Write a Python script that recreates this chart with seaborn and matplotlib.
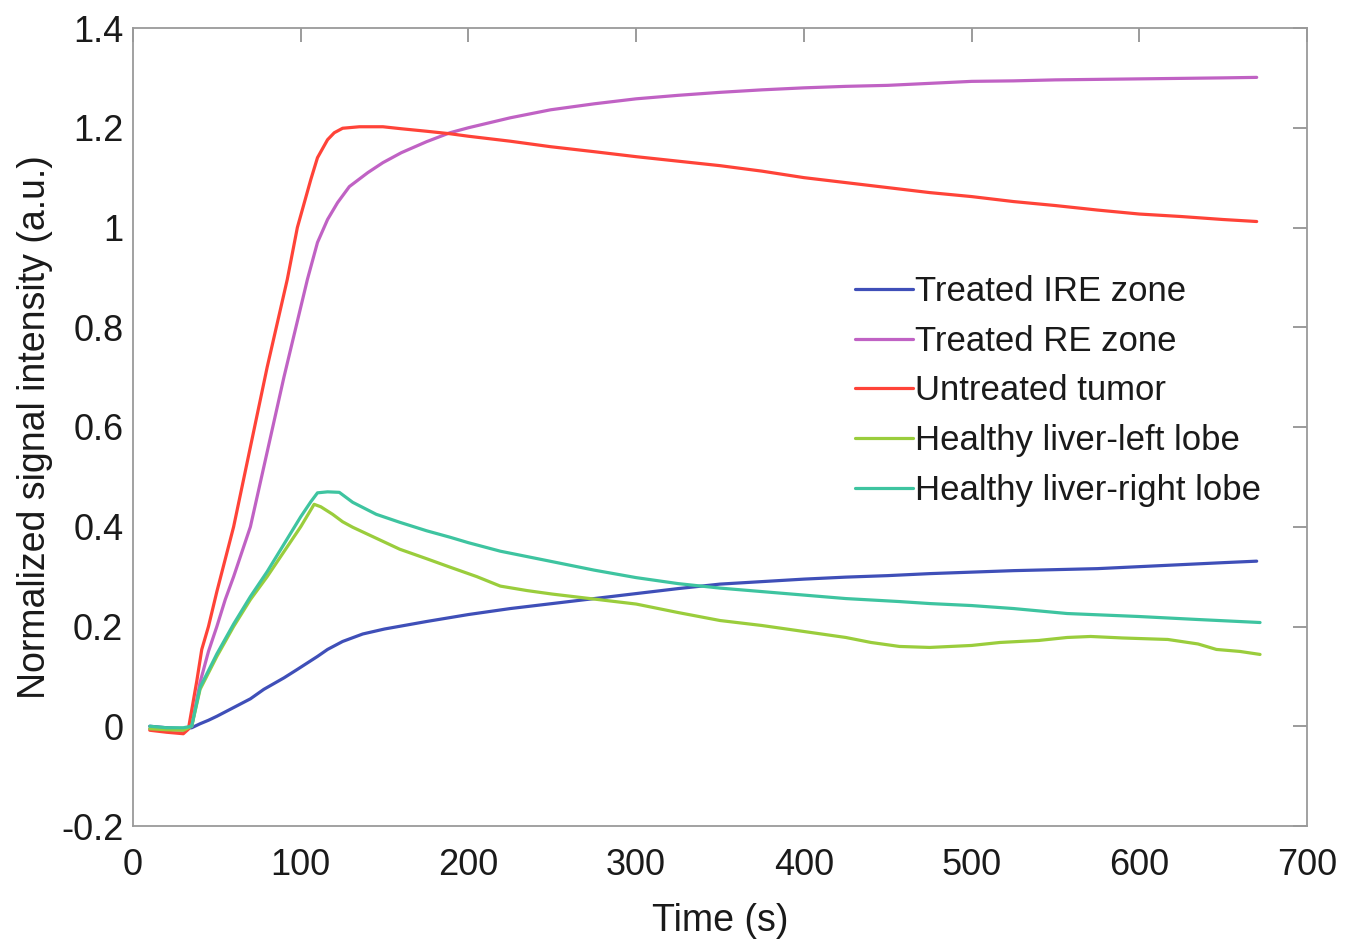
import numpy as np
import pandas as pd
import matplotlib
matplotlib.use("Agg")
import matplotlib.pyplot as plt
import seaborn as sns
from matplotlib.ticker import FuncFormatter

# ---- data ----
labels = ["Treated IRE zone", "Treated RE zone", "Untreated tumor",
          "Healthy liver-left lobe", "Healthy liver-right lobe"]

t_ire = [10, 20, 30, 35, 40, 45, 50, 58, 70, 78, 90, 98, 110, 116, 125, 137, 150, 175,
         200, 225, 250, 275, 300, 325, 350, 375, 400, 425, 450, 475, 500, 525, 550,
         575, 600, 625, 650, 670]
v_ire = [0.0, -0.003, -0.005, -0.003, 0.005, 0.012, 0.02, 0.034, 0.055, 0.074, 0.097,
         0.114, 0.14, 0.154, 0.17, 0.185, 0.195, 0.21, 0.224, 0.236, 0.246, 0.256, 0.266,
         0.276, 0.285, 0.29, 0.295, 0.299, 0.302, 0.306, 0.309, 0.312, 0.314, 0.316,
         0.32, 0.324, 0.328, 0.331]

t_re = [10, 20, 30, 35, 40, 45, 50, 55, 60, 70, 80, 90, 100, 104, 110, 116, 122, 129,
        140, 149, 160, 175, 189, 200, 225, 249, 275, 300, 325, 350, 375, 400, 425, 450,
        475, 500, 525, 550, 575, 600, 625, 650, 670]
v_re = [-0.005, -0.007, -0.008, 0.0, 0.088, 0.15, 0.20, 0.254, 0.30, 0.40, 0.55, 0.70,
        0.84, 0.896, 0.97, 1.016, 1.05, 1.082, 1.11, 1.13, 1.15, 1.172, 1.19, 1.20,
        1.22, 1.236, 1.248, 1.258, 1.265, 1.271, 1.276, 1.28, 1.283, 1.285, 1.289,
        1.293, 1.294, 1.296, 1.297, 1.298, 1.299, 1.300, 1.301]

t_tum = [10, 20, 30, 33, 38, 41, 45, 50, 60, 70, 80, 92, 98, 106, 110, 116, 120, 125,
         135, 149, 160, 175, 189, 200, 225, 249, 275, 300, 325, 350, 375, 400, 425, 450,
         475, 500, 525, 550, 575, 600, 625, 650, 670]
v_tum = [-0.008, -0.012, -0.015, -0.006, 0.09, 0.154, 0.20, 0.27, 0.40, 0.56, 0.72,
         0.896, 1.0, 1.096, 1.14, 1.176, 1.19, 1.199, 1.202, 1.202, 1.198, 1.193, 1.188,
         1.183, 1.173, 1.162, 1.152, 1.142, 1.133, 1.124, 1.113, 1.10, 1.09, 1.08, 1.07,
         1.062, 1.052, 1.044, 1.035, 1.027, 1.022, 1.016, 1.012]

t_left = [10, 20, 30, 35, 40, 50, 60, 70, 80, 90, 100, 108, 112, 119, 125, 131, 145, 159,
          175, 189, 205, 219, 235, 250, 275, 300, 325, 350, 375, 400, 425, 440, 457, 475,
          500, 517, 540, 557, 571, 590, 617, 635, 646, 660, 672]
v_left = [-0.005, -0.007, -0.008, 0.0, 0.074, 0.14, 0.20, 0.254, 0.30, 0.35, 0.40, 0.445,
          0.44, 0.425, 0.41, 0.399, 0.377, 0.355, 0.336, 0.319, 0.300, 0.281, 0.272, 0.265,
          0.255, 0.245, 0.228, 0.212, 0.202, 0.19, 0.178, 0.168, 0.16, 0.158, 0.162, 0.168,
          0.172, 0.178, 0.18, 0.177, 0.174, 0.165, 0.154, 0.15, 0.144]

t_right = [10, 20, 30, 35, 40, 50, 60, 70, 80, 90, 100, 106, 110, 116, 123, 131, 145, 159,
           175, 189, 200, 219, 250, 275, 300, 325, 350, 375, 400, 425, 457, 475, 500, 525,
           557, 600, 635, 672]
v_right = [0.0, -0.003, -0.003, 0.0, 0.078, 0.145, 0.205, 0.26, 0.31, 0.365, 0.42, 0.45,
           0.468, 0.470, 0.469, 0.449, 0.425, 0.409, 0.392, 0.379, 0.368, 0.351, 0.33,
           0.313, 0.298, 0.286, 0.277, 0.27, 0.263, 0.256, 0.25, 0.246, 0.242, 0.236,
           0.226, 0.22, 0.214, 0.208]

colors = ["#3f4fb8", "#c062c4", "#ff4338", "#9acd3c", "#3ec4a0"]

x_ticks = [0, 100, 200, 300, 400, 500, 600, 700]
y_ticks = [-0.2, 0, 0.2, 0.4, 0.6, 0.8, 1.0, 1.2, 1.4]

# ---- build long-form table ----
frames = []
for lab, t, v in zip(labels,
                     [t_ire, t_re, t_tum, t_left, t_right],
                     [v_ire, v_re, v_tum, v_left, v_right]):
    frames.append(pd.DataFrame({"Time": t, "Signal": v, "Region": lab}))
df = pd.concat(frames, ignore_index=True)

sns.set_theme(style="white")
plt.rcParams["font.family"] = ["Liberation Sans", "DejaVu Sans"]

fig = plt.figure(figsize=(13.61, 9.40), dpi=100)
ax = fig.add_axes([133 / 1361, 1 - 826 / 940, (1307 - 133) / 1361, (826 - 28) / 940])

sns.lineplot(data=df, x="Time", y="Signal", hue="Region", hue_order=labels,
             palette=dict(zip(labels, colors)), estimator=None, sort=False,
             linewidth=2.3, ax=ax)

ax.set_xlim(0, 700)
ax.set_ylim(-0.2, 1.4)
ax.set_xticks(x_ticks)
ax.set_yticks(y_ticks)
ax.yaxis.set_major_formatter(FuncFormatter(lambda v, p: f"{v:g}" if abs(v) > 1e-9 else "0"))
ax.tick_params(direction="in", length=10, width=1.2, color="#8a8a8a",
               top=True, right=True, labelsize=26, labelcolor="#1a1a1a")
ax.tick_params(axis="x", pad=16)
ax.tick_params(axis="y", pad=7)
for s in ax.spines.values():
    s.set_color("#9a9a9a")
    s.set_linewidth(1.3)

ax.set_xlabel("Time (s)", fontsize=27, color="#1a1a1a", labelpad=14)
ax.set_ylabel("Normalized signal intensity (a.u.)", fontsize=27, color="#1a1a1a", labelpad=6)

leg = ax.legend(loc="upper left", bbox_to_anchor=(855 / 1361, 1 - 275 / 940),
                bbox_transform=fig.transFigure, frameon=False, fontsize=25,
                handlelength=1.67, handletextpad=0.06, labelspacing=0.48,
                borderaxespad=0, borderpad=0)
for line in leg.get_lines():
    line.set_linewidth(2.3)
for txt in leg.get_texts():
    txt.set_color("#1a1a1a")

fig.savefig("out.png", dpi=100)
